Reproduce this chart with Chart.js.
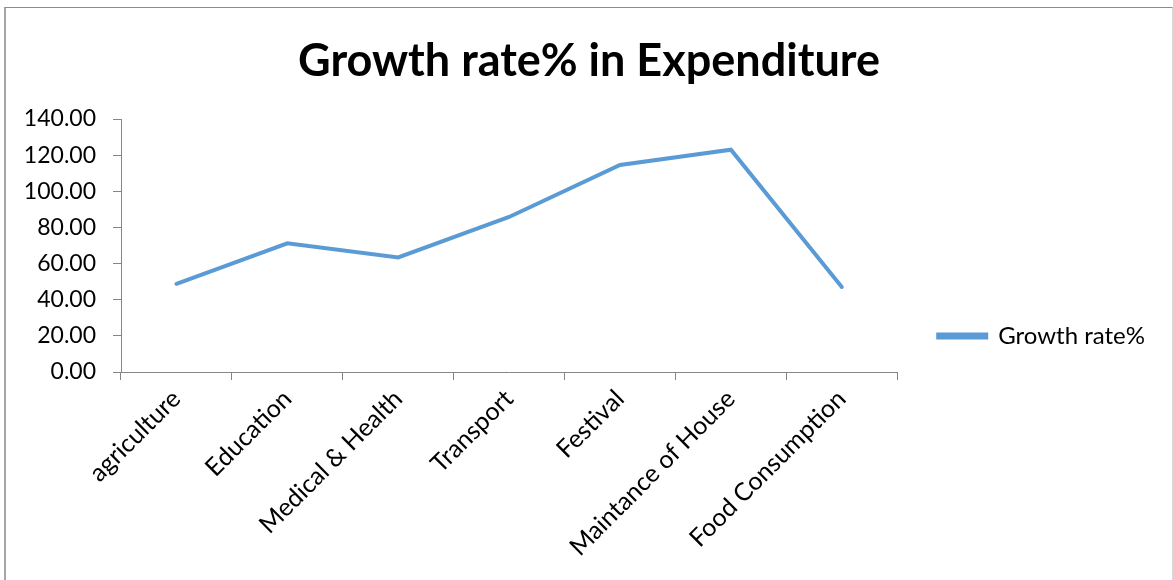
<!DOCTYPE html>
<html>
<head>
<meta charset="utf-8">
<title>Growth rate% in Expenditure</title>
<script src="https://cdn.jsdelivr.net/npm/chart.js@4.4.1/dist/chart.umd.min.js"></script>
<style>
  html, body { margin: 0; padding: 0; background: #fff; overflow: hidden; }
  #frame {
    position: absolute; left: 4px; top: 7px; width: 1166px; height: 600px;
    border-left: 2px solid #a6a6a6; border-top: 1px solid #8c8c8c; border-right: 1px solid #d9d9d9;
  }
  #wrap { position: absolute; left: 0; top: 0; width: 1173px; height: 580px; }
</style>
</head>
<body>
<div id="frame"></div>
<div id="wrap"><canvas id="growth"></canvas></div>
<script>
const categories = ['agriculture', 'Education', 'Medical & Health', 'Transport', 'Festival', 'Maintance of House', 'Food Consumption'];
const growthRate = [48.8, 71.2, 63.4, 85.8, 114.6, 123.0, 47.1];
const yTicks = [0, 20, 40, 60, 80, 100, 120, 140];

const FONT = 'Lato, "Open Sans", sans-serif';
const AXIS_GREY = '#868686';

// nudge the legend down so it sits level with the lower part of the plot
const legendShift = {
    id: 'legendShift',
    afterLayout(chart) {
        const lg = chart.legend;
        if (!lg) return;
        lg.top += 46;
        lg.bottom += 46;
    }
};

new Chart(document.getElementById('growth').getContext('2d'), {
    type: 'line',
    data: {
        labels: categories,
        datasets: [{
            label: 'Growth rate%',
            data: growthRate,
            borderColor: '#5b9bd5',
            backgroundColor: '#5b9bd5',
            borderWidth: 4,
            pointRadius: 0,
            pointHoverRadius: 0,
            tension: 0,
            borderCapStyle: 'round'
        }]
    },
    options: {
        responsive: true,
        maintainAspectRatio: false,
        animation: false,
        layout: { padding: { left: 23, top: 0, right: 18, bottom: 0 } },
        plugins: {
            title: {
                display: true,
                text: 'Growth rate% in Expenditure',
                color: '#000',
                font: { family: FONT, size: 45, weight: 'bold' },
                padding: { top: 34, bottom: 31 }
            },
            legend: {
                position: 'right',
                align: 'center',
                labels: {
                    color: '#000',
                    font: { family: FONT, size: 24 },
                    boxWidth: 48,
                    boxHeight: 3,
                    padding: 41
                }
            },
            tooltip: { enabled: false }
        },
        scales: {
            x: {
                type: 'category',
                offset: true,
                grid: {
                    offset: true,
                    drawOnChartArea: false,
                    color: AXIS_GREY,
                    tickLength: 8
                },
                border: { color: AXIS_GREY, width: 1 },
                ticks: {
                    color: '#000',
                    font: { family: FONT, size: 25 },
                    minRotation: 45,
                    maxRotation: 45,
                    autoSkip: false,
                    padding: 4
                },
                afterFit(scale) { scale.height = 208; }
            },
            y: {
                min: 0,
                max: 140,
                afterBuildTicks(scale) { scale.ticks = yTicks.map(v => ({ value: v })); },
                grid: {
                    drawOnChartArea: false,
                    color: AXIS_GREY,
                    tickLength: 8
                },
                border: { color: AXIS_GREY, width: 1 },
                ticks: {
                    color: '#000',
                    font: { family: FONT, size: 23 },
                    padding: 17,
                    callback: v => Number(v).toFixed(2)
                },
                afterFit(scale) { scale.width = 98; }
            }
        }
    },
    plugins: [legendShift]
});
</script>
</body>
</html>
